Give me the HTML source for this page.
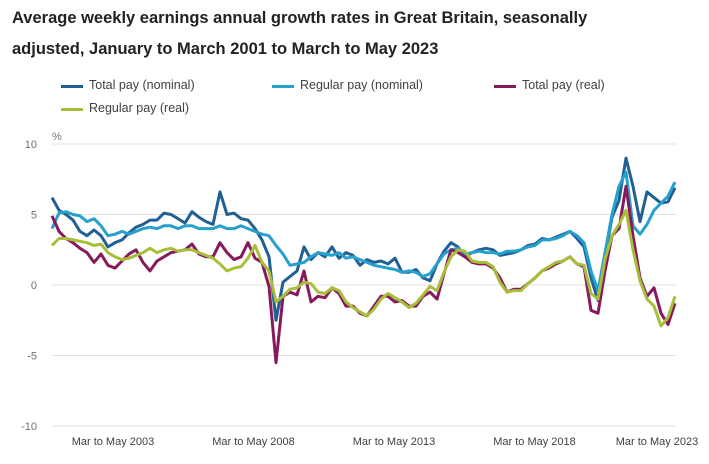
<!DOCTYPE html>
<html><head><meta charset="utf-8"><style>
body{margin:0;background:#fff;font-family:"Liberation Sans",sans-serif;}
#wrap{position:relative;width:709px;height:464px;overflow:hidden;}
h1{position:absolute;left:12px;top:3px;margin:0;font-size:16.5px;line-height:31px;font-weight:bold;color:#222;width:600px;}
.leg{position:absolute;font-size:12.5px;color:#414042;}
.leg i{position:absolute;left:0;top:7px;width:22px;height:3px;}
.leg span{margin-left:28px;}
</style></head><body>
<div id="wrap">
<h1>Average weekly earnings annual growth rates in Great Britain, seasonally adjusted, January to March 2001 to March to May 2023</h1>
<div class="leg" style="left:61px;top:78px"><i style="background:#206095"></i><span>Total pay (nominal)</span></div>
<div class="leg" style="left:272px;top:78px"><i style="background:#27a0cc"></i><span>Regular pay (nominal)</span></div>
<div class="leg" style="left:494px;top:78px"><i style="background:#871a5b"></i><span>Total pay (real)</span></div>
<div class="leg" style="left:61px;top:101px"><i style="background:#a8bd3a"></i><span>Regular pay (real)</span></div>
<svg id="svg" width="709" height="464" style="position:absolute;left:0;top:0"></svg>
</div>
<script>
const yTicks=[10,5,0,-5,-10];
const xTickLabels=["Mar to May 2003","Mar to May 2008","Mar to May 2013","Mar to May 2018","Mar to May 2023"];
const xTickYears=[2003.17,2008.17,2013.17,2018.17,2023.17];
const totalNominal=[6.2,5.3,5.0,4.6,3.8,3.5,3.9,3.5,2.7,3.0,3.2,3.7,4.1,4.3,4.6,4.6,5.1,5.0,4.7,4.4,5.2,4.8,4.5,4.3,6.6,5.0,5.1,4.7,4.6,4.0,3.2,2.0,-2.5,0.2,0.6,1.0,2.7,1.8,2.3,2.0,2.7,1.9,2.3,2.1,1.4,1.8,1.6,1.7,1.5,1.9,0.9,0.9,1.1,0.5,0.3,1.5,2.4,3.0,2.7,2.0,2.3,2.5,2.6,2.5,2.1,2.2,2.3,2.5,2.8,2.9,3.3,3.2,3.4,3.6,3.8,3.3,2.7,0.5,-1.1,2.0,4.8,6.0,9.0,7.0,4.5,6.6,6.2,5.8,5.9,6.9];
const regularNominal=[4.0,5.1,5.2,5.0,4.9,4.5,4.7,4.2,3.5,3.6,3.8,3.6,3.8,4.0,4.1,4.0,4.2,4.2,4.0,4.2,4.2,4.0,4.0,4.0,4.2,4.0,4.0,4.2,4.0,3.8,3.6,3.5,2.8,2.2,1.4,1.5,1.6,2.0,2.3,2.2,2.1,2.3,1.9,2.0,1.8,1.6,1.4,1.3,1.2,1.1,0.9,1.0,0.9,0.6,0.8,1.5,2.2,2.5,2.6,2.2,2.3,2.4,2.3,2.3,2.2,2.4,2.4,2.5,2.7,2.8,3.2,3.2,3.3,3.5,3.8,3.5,3.0,1.0,-0.4,2.3,5.0,7.0,8.0,4.2,3.6,4.3,5.3,5.8,6.3,7.3];
const totalReal=[4.9,3.8,3.3,3.0,2.6,2.3,1.6,2.2,1.4,1.2,1.7,2.2,2.5,1.6,1.0,1.7,2.0,2.3,2.4,2.5,2.9,2.2,2.0,2.0,3.0,2.3,1.8,2.0,3.0,1.9,1.6,-0.1,-5.5,-0.8,-0.5,-0.7,1.0,-1.2,-0.8,-0.9,-0.2,-0.6,-1.5,-1.5,-2.0,-2.2,-1.5,-0.8,-0.8,-1.2,-1.1,-1.5,-1.5,-0.8,-0.5,-1.0,0.8,2.5,2.3,2.0,1.6,1.5,1.5,1.2,0.5,-0.5,-0.3,-0.3,0.1,0.5,1.0,1.2,1.5,1.7,2.0,1.5,1.3,-1.8,-2.0,1.0,3.5,4.0,7.0,3.5,0.5,-0.8,-0.2,-2.0,-2.8,-1.3];
const regularReal=[2.8,3.3,3.3,3.2,3.1,3.0,2.8,2.9,2.3,2.0,1.8,1.9,2.1,2.3,2.6,2.3,2.5,2.6,2.4,2.5,2.5,2.3,2.1,1.9,1.5,1.0,1.2,1.3,1.9,2.8,1.6,1.0,-1.2,-0.8,-0.3,-0.2,0.2,0.1,-0.5,-0.6,-0.2,-0.4,-1.2,-1.6,-1.9,-2.2,-1.7,-1.0,-0.6,-0.9,-1.2,-1.6,-1.3,-0.7,-0.1,-0.4,0.9,2.0,2.5,2.4,1.7,1.6,1.6,1.3,0.2,-0.5,-0.4,-0.4,0.1,0.5,1.0,1.3,1.6,1.7,2.0,1.5,1.4,-0.6,-1.0,1.8,3.5,4.3,5.3,2.5,0.3,-1.0,-1.5,-2.9,-2.3,-0.8];
const startYear=2001.0, endYear=2023.17;
const X0=52,X1=675,Y0=285,PER=14.1;
function x(yr){return X0+(yr-startYear)/(endYear-startYear)*(X1-X0);}
function y(v){return Y0-v*PER;}
function yearAt(i,n){return startYear+i*(endYear-startYear)/(n-1);}
const svg=document.getElementById('svg');const NS='http://www.w3.org/2000/svg';
function mk(t,a){const e=document.createElementNS(NS,t);for(const k in a)e.setAttribute(k,a[k]);svg.appendChild(e);return e;}
yTicks.forEach(v=>{
 const l=mk('line',{x1:X0,x2:X1+1,y1:y(v),y2:y(v),stroke:'#e0e0e0','stroke-width':1});
 
 
 const t=mk('text',{x:37,y:y(v)+4,'text-anchor':'end','font-size':11,fill:'#707070','font-family':'Liberation Sans, sans-serif'});
 t.textContent=v;
 
 
});
const pc=mk('text',{x:52,y:140,'font-size':11,fill:'#707070','font-family':'Liberation Sans, sans-serif'});pc.textContent='%';


xTickLabels.forEach((s,i)=>{
 let cx=x(xTickYears[i]);
 const t=mk('text',{x:Math.min(cx,657),y:445,'text-anchor':'middle','font-size':11,fill:'#414042','font-family':'Liberation Sans, sans-serif'});
 t.textContent=s;
 
 
});
[[totalNominal,'#206095','line-total-nominal'],[regularNominal,'#27a0cc','line-regular-nominal'],[totalReal,'#871a5b','line-total-real'],[regularReal,'#a8bd3a','line-regular-real']].forEach(([d,c,n])=>{
 const pts=d.map((v,i)=>x(yearAt(i,d.length)).toFixed(1)+','+y(v).toFixed(1)).join(' ');
 const p=mk('polyline',{points:pts,fill:'none',stroke:c,'stroke-width':3,'stroke-linejoin':'round'});
 
 
});
</script>
</body></html>
